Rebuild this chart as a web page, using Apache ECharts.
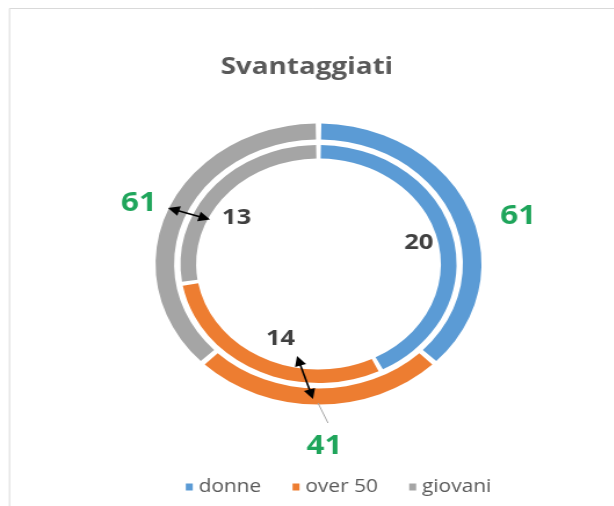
<!DOCTYPE html>
<html>
<head>
<meta charset="utf-8">
<script src="https://cdn.jsdelivr.net/npm/echarts@6/dist/echarts.min.js"></script>
<style>
  html, body { margin: 0; padding: 0; background: #ffffff; overflow: hidden; }
  #chart { position: absolute; left: 0; top: 0; height: 506px; transform-origin: 0 0; }
</style>
</head>
<body>
<div id="chart"></div>
<script>
// ---- data ----
const categories = ['donne', 'over 50', 'giovani'];
const outerValues = [61, 41, 61];
const innerValues = [20, 14, 13];
const colors = ['#5B9BD5', '#ED7D31', '#A5A5A5'];
const titleText = 'Svantaggiati';

// label nudges (style only), in reference pixels
const outerLabelShift = [[8, 21], [6, 3], [12, 8]];
const innerLabelShift = [[1, -1], [8, -4], [-4, 11]];

// the reference is horizontally stretched: draw at natural size, then stretch
const SX = 1.16;
const W = 614 / SX;
const el = document.getElementById('chart');
el.style.width = W + 'px';
el.style.transform = 'scaleX(' + SX + ')';

const cx = 318.5 / SX, cy = 264;
const FONT = "'Open Sans', 'Noto Sans', sans-serif";

function toData(vals) {
  return categories.map((c, i) => ({ name: c, value: vals[i], itemStyle: { color: colors[i] } }));
}
function toLabelData(vals, shifts) {
  return categories.map((c, i) => ({
    name: c, value: vals[i], itemStyle: { color: 'rgba(0,0,0,0)' },
    label: { offset: [shifts[i][0] / SX, shifts[i][1]] }
  }));
}

function arrow(x1, y1, x2, y2) {
  const a = [x1 / SX, y1], b = [x2 / SX, y2];
  const dx = b[0] - a[0], dy = b[1] - a[1];
  const L = Math.hypot(dx, dy), ux = dx / L, uy = dy / L;
  const hl = 10, hw = 5;
  const head = (t, dir) => {
    const bx = t[0] - dir * ux * hl, by = t[1] - dir * uy * hl;
    return { type: 'polygon', silent: true, z: 100,
      shape: { points: [t, [bx - uy * hw, by + ux * hw], [bx + uy * hw, by - ux * hw]] },
      style: { fill: '#000000' } };
  };
  return [
    { type: 'line', silent: true, z: 100,
      shape: { x1: a[0] + ux * 6, y1: a[1] + uy * 6, x2: b[0] - ux * 6, y2: b[1] - uy * 6 },
      style: { stroke: '#000000', lineWidth: 1.6 } },
    head(b, 1), head(a, -1)
  ];
}

const chart = echarts.init(el, null, { renderer: 'canvas' });
const baseRing = {
  type: 'pie', center: [cx, cy], startAngle: 90, clockwise: true,
  padAngle: 2, avoidLabelOverlap: false, silent: true,
  emphasis: { disabled: true }, animation: false
};

chart.setOption({
  animation: false,
  title: {
    text: titleText, left: 'center', top: 50,
    textStyle: { fontFamily: FONT, fontSize: 24, fontWeight: 'bold', color: '#595959' }
  },
  legend: {
    data: categories, bottom: 5, left: 180 / SX,
    icon: 'rect', itemWidth: 6, itemHeight: 7, itemGap: 27,
    textStyle: { fontFamily: FONT, fontSize: 18, color: '#595959' },
    selectedMode: false
  },
  graphic: [
    { type: 'rect', silent: true, shape: { x: 9.5 / SX, y: 8.5, width: W, height: 600 },
      style: { fill: 'none', stroke: '#D9D9D9', lineWidth: 1 } },
    ...arrow(168, 208, 210, 219.5),
    ...arrow(297, 356, 313, 399),
    { type: 'line', silent: true, z: 99,
      shape: { x1: 318 / SX, y1: 403, x2: 328 / SX, y2: 423 },
      style: { stroke: '#A6A6A6', lineWidth: 1 } }
  ],
  series: [
    Object.assign({}, baseRing, {
      name: 'outer', radius: [124.5, 140.5], label: { show: false }, labelLine: { show: false },
      data: toData(outerValues)
    }),
    Object.assign({}, baseRing, {
      name: 'inner', radius: [105.5, 119], label: { show: false }, labelLine: { show: false },
      data: toData(innerValues)
    }),
    Object.assign({}, baseRing, {
      name: 'outerLabels', radius: [168, 184], padAngle: 0,
      label: { show: true, position: 'inside', formatter: '{c}', color: '#1FA55B',
               fontFamily: FONT, fontSize: 27, fontWeight: 'bold' },
      labelLine: { show: false },
      data: toLabelData(outerValues, outerLabelShift)
    }),
    Object.assign({}, baseRing, {
      name: 'innerLabels', radius: [76, 94], padAngle: 0,
      label: { show: true, position: 'inside', formatter: '{c}', color: '#404040',
               fontFamily: FONT, fontSize: 22, fontWeight: 'bold' },
      labelLine: { show: false },
      data: toLabelData(innerValues, innerLabelShift)
    })
  ]
});
</script>
</body>
</html>
